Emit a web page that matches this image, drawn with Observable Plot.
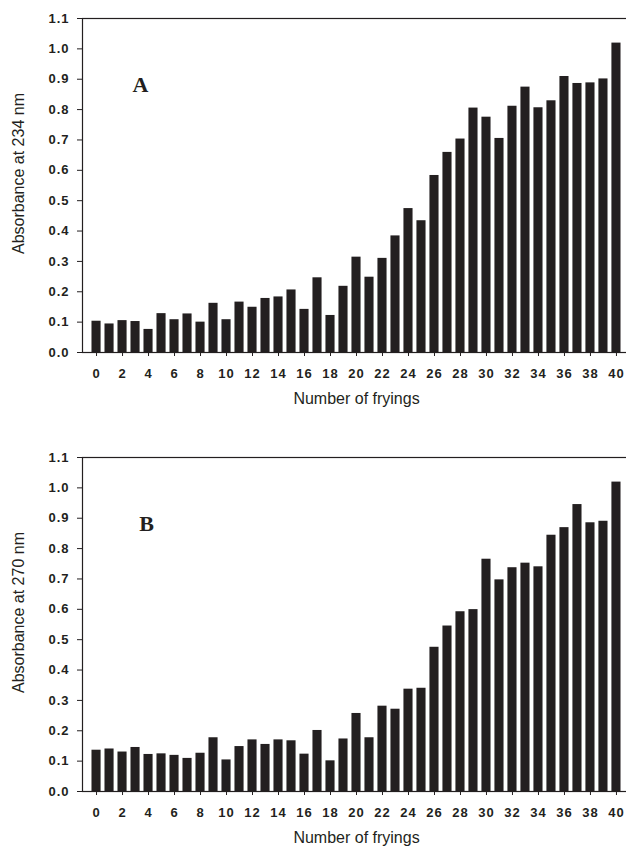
<!DOCTYPE html>
<html>
<head>
<meta charset="utf-8">
<script src="https://cdn.jsdelivr.net/npm/d3@7"></script>
<script src="https://cdn.jsdelivr.net/npm/@observablehq/plot@0.6"></script>
<style>
  html, body { margin: 0; padding: 0; background: #fff; overflow: hidden; }
  #root { width: 626px; height: 848px; overflow: hidden; }
  #root svg { display: block; overflow: hidden; }
  #root g[aria-label$="tick label"] { letter-spacing: 1px; }
</style>
</head>
<body>
<div id="root"></div>
<script>
const fryings = [0,1,2,3,4,5,6,7,8,9,10,11,12,13,14,15,16,17,18,19,20,21,22,23,24,25,26,27,28,29,30,31,32,33,34,35,36,37,38,39,40];
const absorbance234 = [0.103,0.094,0.105,0.102,0.076,0.128,0.108,0.127,0.100,0.162,0.108,0.166,0.149,0.178,0.183,0.206,0.142,0.246,0.122,0.218,0.314,0.248,0.310,0.384,0.474,0.434,0.583,0.659,0.703,0.805,0.775,0.705,0.811,0.874,0.806,0.829,0.909,0.886,0.888,0.901,1.019];
const absorbance270 = [0.136,0.140,0.130,0.145,0.122,0.124,0.119,0.109,0.126,0.177,0.104,0.148,0.170,0.155,0.170,0.167,0.123,0.201,0.101,0.173,0.257,0.177,0.281,0.271,0.337,0.340,0.475,0.545,0.592,0.599,0.765,0.697,0.737,0.752,0.740,0.844,0.869,0.945,0.885,0.890,1.019];
const xTicks = [0,2,4,6,8,10,12,14,16,18,20,22,24,26,28,30,32,34,36,38,40];
const yTicks = [0,0.1,0.2,0.3,0.4,0.5,0.6,0.7,0.8,0.9,1.0,1.1];
const xTitle = "Number of fryings";
const panels = [
  {letter: "A", letterAt: 3, letterDx: 5, yTitle: "Absorbance at 234 nm", values: absorbance234, height: 440, marginTop: 18, marginBottom: 88},
  {letter: "B", letterAt: 4, letterDx: -2, yTitle: "Absorbance at 270 nm", values: absorbance270, height: 408, marginTop: 17, marginBottom: 57}
];
const letterValue = 0.88;
const ink = "#231f20";

const root = document.getElementById("root");
for (const p of panels) {
  const data = fryings.map((n, i) => ({n, v: p.values[i]}));
  const chart = Plot.plot({
    width: 626,
    height: p.height,
    marginTop: p.marginTop,
    marginBottom: p.marginBottom,
    marginLeft: 82,
    marginRight: -4,
    style: {fontFamily: "'Liberation Sans', Arial, sans-serif", fontSize: "13px", color: ink, background: "#fff"},
    x: {type: "band", domain: fryings, paddingInner: 0.3, paddingOuter: 0.73},
    y: {domain: [0, 1.1]},
    marks: [
      Plot.barY(data, {x: "n", y: "v", fill: ink}),
      Plot.frame({stroke: ink, strokeWidth: 1.2}),
      Plot.axisX({ticks: xTicks, tickSize: 4, tickPadding: 12, label: null, fontWeight: "bold", fontSize: 13}),
      Plot.axisY({ticks: yTicks, tickFormat: ".1f", tickSize: 5, tickPadding: 8, label: null, fontWeight: "bold", fontSize: 13}),
      Plot.text([p.yTitle], {frameAnchor: "left", rotate: -90, dx: -64, dy: -12, fontSize: 16, textAnchor: "middle", lineAnchor: "middle", fill: ink}),
      Plot.text([xTitle], {frameAnchor: "bottom", dy: 40, lineAnchor: "top", fontSize: 16, fill: ink}),
      Plot.text([{n: p.letterAt, v: letterValue, t: p.letter}], {x: "n", y: "v", text: "t", dx: p.letterDx, fontFamily: "'Liberation Serif', 'Times New Roman', serif", fontWeight: "bold", fontSize: 22, fill: ink})
    ]
  });
  root.appendChild(chart);
}
</script>
</body>
</html>
